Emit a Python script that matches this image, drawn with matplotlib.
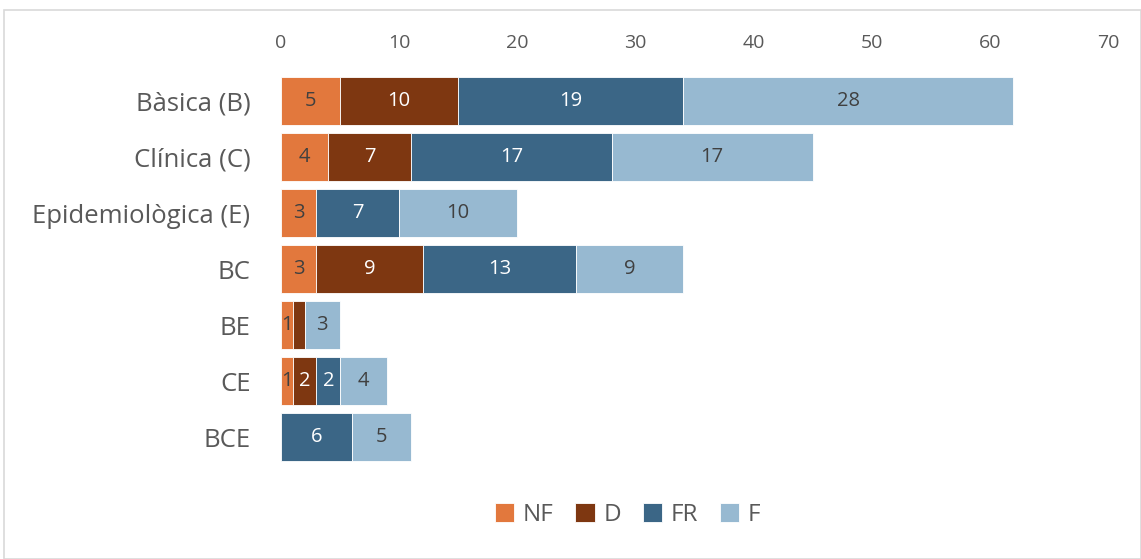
import matplotlib
matplotlib.use('Agg')
import matplotlib.pyplot as plt
from matplotlib.patches import Rectangle
import numpy as np

categories = ['Bàsica (B)', 'Clínica (C)', 'Epidemiològica (E)', 'BC', 'BE', 'CE', 'BCE']
nf = [5, 4, 3, 3, 1, 1, 0]
d = [10, 7, 0, 9, 1, 2, 0]
fr = [19, 17, 7, 13, 0, 2, 6]
f = [28, 17, 10, 9, 3, 4, 5]

series = [('NF', nf, '#E2783D', '#404040'),
          ('D', d, '#7E3711', 'white'),
          ('FR', fr, '#3B6686', 'white'),
          ('F', f, '#97B9D1', '#404040')]

plt.rcParams['font.family'] = ['Open Sans', 'DejaVu Sans']
text_col = '#595959'

fig = plt.figure(figsize=(11.41, 5.59), dpi=100)
ax = fig.add_axes([281 / 1141, 1 - 465 / 559, 827 / 1141, 392 / 559])

y = np.arange(len(categories))
left = np.zeros(len(categories))
for name, vals, col, lcol in series:
    vals = np.array(vals, dtype=float)
    ax.barh(y, vals, left=left, height=0.86, color=col, label=name, edgecolor='white', linewidth=0.6)
    for i, v in enumerate(vals):
        # tiny D segment of BE has no label in the original
        if v > 0 and not (name == 'D' and categories[i] == 'BE'):
            ax.text(left[i] + v / 2, y[i], f'{int(v)}', ha='center', va='center',
                    color=lcol, fontsize=14.5)
    left += vals

ax.set_xlim(0, 70)
ax.set_ylim(len(categories) - 0.5, -0.5)
ax.set_xticks(range(0, 71, 10))
ax.xaxis.tick_top()
ax.tick_params(axis='x', length=0, labelsize=14, labelcolor=text_col, pad=15)
ax.set_yticks(y)
ax.set_yticklabels(categories)
ax.tick_params(axis='y', length=0, labelsize=18.5, labelcolor=text_col, pad=22)
for s in ax.spines.values():
    s.set_visible(False)

leg = fig.legend(loc='center', bbox_to_anchor=(0.55, 1 - 515 / 559), ncol=4, frameon=False,
                 fontsize=17.5, handlelength=0.8, handleheight=0.8, columnspacing=0.9,
                 handletextpad=0.35)
for t in leg.get_texts():
    t.set_color(text_col)

fig.patches.append(Rectangle((4 / 1141, 0), 1 - 4 / 1141, 1 - 10 / 559, transform=fig.transFigure,
                             fill=False, edgecolor='#D9D9D9', linewidth=1.2))

fig.savefig('out.png', dpi=100)
